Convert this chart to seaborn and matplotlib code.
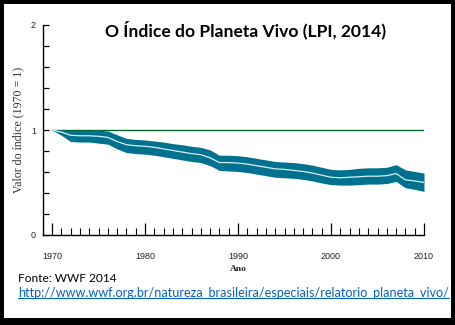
import matplotlib
matplotlib.use("Agg")
import matplotlib.pyplot as plt
from matplotlib.patches import Rectangle
from matplotlib.ticker import MultipleLocator, FixedLocator
import numpy as np
import pandas as pd
import seaborn as sns

# Living Planet Index, 1970 = 1, with its confidence band
years = list(range(1970, 2011))
lpi = [1.00, 0.98, 0.95, 0.945, 0.945, 0.94, 0.93, 0.89, 0.86, 0.85,
       0.845, 0.835, 0.82, 0.805, 0.79, 0.775, 0.765, 0.735, 0.69, 0.69,
       0.685, 0.675, 0.66, 0.645, 0.63, 0.625, 0.615, 0.605, 0.59, 0.57,
       0.55, 0.545, 0.55, 0.555, 0.56, 0.56, 0.565, 0.585, 0.525, 0.515,
       0.50]
lpi_upper = [1.00, 1.00, 0.995, 0.995, 0.995, 1.00, 0.99, 0.955, 0.92, 0.91,
             0.905, 0.895, 0.885, 0.87, 0.86, 0.845, 0.835, 0.81, 0.76, 0.76,
             0.755, 0.745, 0.73, 0.715, 0.70, 0.695, 0.69, 0.68, 0.665, 0.645,
             0.625, 0.62, 0.625, 0.635, 0.64, 0.64, 0.645, 0.67, 0.62, 0.605,
             0.59]
lpi_lower = [1.00, 0.95, 0.89, 0.885, 0.885, 0.875, 0.865, 0.82, 0.785, 0.775,
             0.77, 0.76, 0.745, 0.73, 0.715, 0.70, 0.69, 0.66, 0.615, 0.61,
             0.605, 0.595, 0.58, 0.565, 0.55, 0.545, 0.54, 0.53, 0.515, 0.495,
             0.48, 0.475, 0.475, 0.48, 0.485, 0.485, 0.49, 0.51, 0.45, 0.435,
             0.415]
baseline = [1.0] * len(years)
xtick_labels = ["1970", "1980", "1990", "2000", "2010"]
ytick_labels = ["0", "1", "2"]

df = pd.DataFrame({"ano": years, "lpi": lpi, "sup": lpi_upper,
                   "inf": lpi_lower, "base": baseline})

sns.set_theme(style="white")
plt.rcParams["font.family"] = ["DejaVu Sans"]

W, H = 455, 325
fig = plt.figure(figsize=(W / 100, H / 100), dpi=100)
fig.patch.set_facecolor("white")

# axes box in pixel terms: left spine x=43, right end x=424, bottom y=235, top y=25
ax = fig.add_axes([43 / W, 1 - 235 / H, (424 - 43) / W, (235 - 25) / H])
ax.set_facecolor("white")

teal = "#00728F"
ax.fill_between(df["ano"], df["inf"], df["sup"], color=teal, lw=0, zorder=2)
sns.lineplot(data=df, x="ano", y="base", ax=ax, color="#00662E", lw=1.0,
             zorder=1)
sns.lineplot(data=df, x="ano", y="lpi", ax=ax, color="#D8EEF3", lw=0.9,
             zorder=3)

ax.set_xlim(1970 - 9 / 9.3, 2010)
ax.set_ylim(0, 2)

for s in ["top", "right"]:
    ax.spines[s].set_visible(False)
for s in ["left", "bottom"]:
    ax.spines[s].set_color("black")
    ax.spines[s].set_linewidth(1.0)

ax.xaxis.set_major_locator(FixedLocator([1970, 1980, 1990, 2000, 2010]))
ax.xaxis.set_minor_locator(MultipleLocator(1))
ax.set_xticklabels(xtick_labels)
ax.yaxis.set_major_locator(FixedLocator([0, 1, 2]))
ax.yaxis.set_minor_locator(MultipleLocator(0.2))
ax.set_yticklabels(ytick_labels)

ax.tick_params(axis="x", which="major", direction="in", length=9, width=0.9,
               color="black", pad=12, labelsize=6.5, bottom=True)
ax.tick_params(axis="x", which="minor", direction="in", length=5, width=0.8,
               color="black", bottom=True)
ax.tick_params(axis="y", which="major", direction="in", length=4.5, width=0.9,
               color="black", pad=5, labelsize=6.5, left=True)
ax.tick_params(axis="y", which="minor", direction="in", length=4.5, width=0.9,
               color="black", left=True)
for lab in ax.get_xticklabels() + ax.get_yticklabels():
    lab.set_family("Liberation Sans")
    lab.set_color("#222222")

ax.set_xlabel("")
ax.set_ylabel("")

fig.text(238 / W, 1 - 269 / H, "Ano", family="Liberation Serif",
         weight="bold", fontsize=6.8, ha="center", va="center", color="#222222")
fig.text(18 / W, 1 - 130 / H, "Valor do índice (1970 = 1)",
         family="Liberation Serif", fontsize=8.6, rotation=90,
         ha="center", va="center", color="#333333")

fig.text(246 / W, 1 - 30 / H, "O Índice do Planeta Vivo (LPI, 2014)",
         family="Lato", weight="bold", fontsize=12.6, ha="center",
         va="center", color="black")

fig.text(18 / W, 1 - 278 / H, "Fonte: WWF 2014", family="Lato",
         fontsize=8.6, ha="left", va="center", color="black")
url = fig.text(18 / W, 1 - 293 / H,
               "http://www.wwf.org.br/natureza_brasileira/especiais/relatorio_planeta_vivo/",
               family="Lato", fontsize=9.1, ha="left", va="center",
               color="#0563C1")

# underline the link
fig.canvas.draw()
bb = url.get_window_extent()
fig.add_artist(plt.Line2D([bb.x0 / W, bb.x1 / W],
                          [(bb.y0 + 1.5) / H, (bb.y0 + 1.5) / H],
                          transform=fig.transFigure, color="#0563C1", lw=0.8))

# black frame around the figure
for x, y, w, h in [(0, 0, 4, H), (W - 4, 0, 4, H), (0, H - 4, W, 4),
                   (0, 0, W, 7)]:
    fig.add_artist(Rectangle((x / W, y / H), w / W, h / H,
                             transform=fig.transFigure, color="black",
                             lw=0, zorder=10))

fig.savefig("out.png", dpi=100)
